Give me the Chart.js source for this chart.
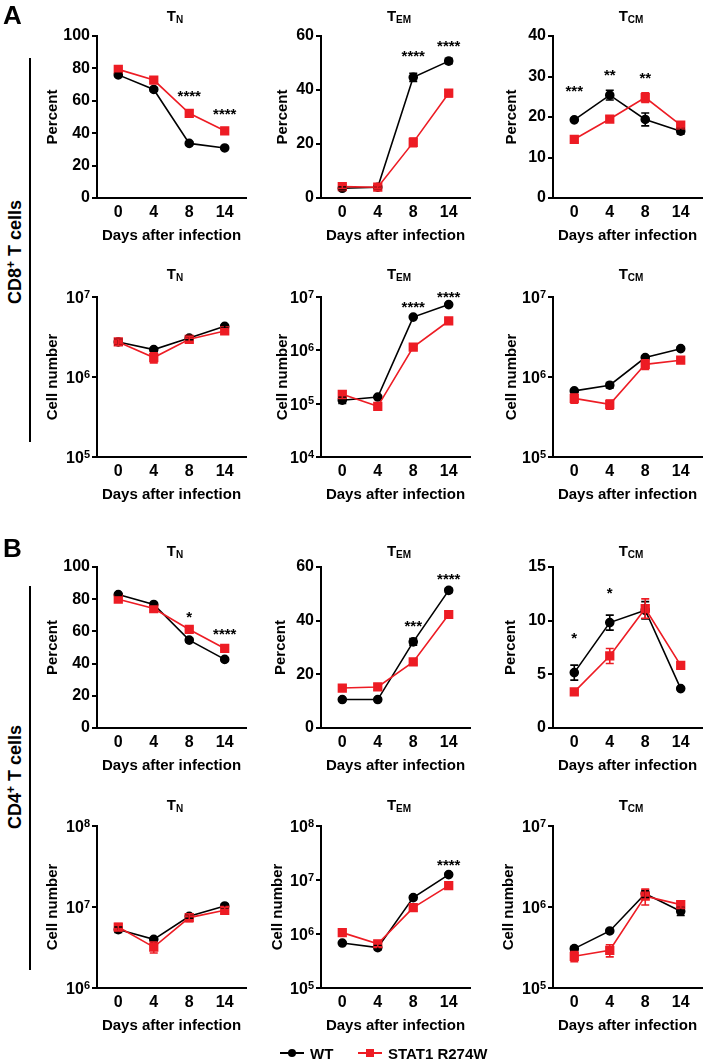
<!DOCTYPE html>
<html>
<head>
<meta charset="utf-8">
<script src="https://cdn.jsdelivr.net/npm/chart.js@4"></script>
<style>
  body { margin: 0; background: #fff; }
  #page { position: relative; width: 714px; height: 1063px; overflow: hidden;
          font-family: "Liberation Sans", Arial, sans-serif; font-weight: bold; color: #000; }
  #page canvas { position: absolute; }
  .lbl { position: absolute; white-space: nowrap; line-height: 1; }
  .ptitle { font-size: 15px; transform: translate(-50%, -50%); }
  .ptitle sub { font-size: 10px; vertical-align: -2px; line-height: 0; }
  .side { font-size: 18px; transform: translate(-50%, -50%) rotate(-90deg); }
  .side sup { font-size: 12px; vertical-align: 6px; line-height: 0; }
  .vline { position: absolute; width: 1.5px; background: #000; }
  .letter { font-size: 26px; }
  .leg { font-size: 15px; transform: translateY(-50%); }
</style>
</head>
<body>
<div id="page"></div>
<script>
// x categories (days after infection)
const days = ["0", "4", "8", "14"];

// ---- A: CD8+ T cells, percent ----
const cd8TnPctWT = [76, 67, 33.7, 30.9];
const cd8TnPctWTErr = [1, 1, 0.8, 0.8];
const cd8TnPctMut = [79.4, 72.8, 52.3, 41.5];
const cd8TnPctMutErr = [1, 1, 2, 1.2];
const cd8TnPctStars = ["", "", "****", "****"];
const cd8TnPctStarY = [null, null, 65, 54];

const cd8TemPctWT = [3.6, 4, 44.7, 50.7];
const cd8TemPctWTErr = [0.5, 0.5, 1.5, 1];
const cd8TemPctMut = [4.2, 4, 20.6, 38.8];
const cd8TemPctMutErr = [0.7, 0.5, 1.6, 1.3];
const cd8TemPctStars = ["", "", "****", "****"];
const cd8TemPctStarY = [null, null, 53.6, 57.5];

const cd8TcmPctWT = [19.3, 25.4, 19.4, 16.5];
const cd8TcmPctWTErr = [0.3, 1.2, 1.6, 0.7];
const cd8TcmPctMut = [14.5, 19.5, 24.8, 18];
const cd8TcmPctMutErr = [0.7, 0.7, 1.2, 0.7];
const cd8TcmPctStars = ["***", "**", "**", ""];
const cd8TcmPctStarY = [27.1, 31, 30.4, null];

// ---- A: CD8+ T cells, cell number ----
const cd8TnNumWT = [2.74e6, 2.2e6, 3.07e6, 4.3e6];
const cd8TnNumWTErr = [0.25e6, 0.1e6, 0.15e6, 0.2e6];
const cd8TnNumMut = [2.74e6, 1.75e6, 2.96e6, 3.76e6];
const cd8TnNumMutErr = [0.25e6, 0.25e6, 0.25e6, 0.25e6];
const cd8TnNumStars = ["", "", "", ""];
const cd8TnNumStarY = [null, null, null, null];

const cd8TemNumWT = [1.16e5, 1.33e5, 4.2e6, 7.2e6];
const cd8TemNumWTErr = [0.15e5, 0.05e5, 0.2e6, 0.3e6];
const cd8TemNumMut = [1.5e5, 0.89e5, 1.15e6, 3.55e6];
const cd8TemNumMutErr = [0.25e5, 0.05e5, 0.08e6, 0.25e6];
const cd8TemNumStars = ["", "", "****", "****"];
const cd8TemNumStarY = [null, null, 7.5e6, 1.15e7];

const cd8TcmNumWT = [6.7e5, 7.9e5, 1.75e6, 2.26e6];
const cd8TcmNumWTErr = [0.2e5, 0.6e5, 0.08e6, 0.1e6];
const cd8TcmNumMut = [5.4e5, 4.56e5, 1.44e6, 1.62e6];
const cd8TcmNumMutErr = [0.7e5, 0.6e5, 0.2e6, 0.1e6];
const cd8TcmNumStars = ["", "", "", ""];
const cd8TcmNumStarY = [null, null, null, null];

// ---- B: CD4+ T cells, percent ----
const cd4TnPctWT = [82.9, 76.7, 54.6, 42.6];
const cd4TnPctWTErr = [0.5, 0.5, 1.2, 0.8];
const cd4TnPctMut = [80, 74.2, 61.2, 49.4];
const cd4TnPctMutErr = [1, 1.5, 1.2, 1];
const cd4TnPctStars = ["", "", "*", "****"];
const cd4TnPctStarY = [null, null, 71.1, 60.3];

const cd4TemPctWT = [10.6, 10.6, 32.1, 51.3];
const cd4TemPctWTErr = [0.4, 0.4, 1.2, 0.8];
const cd4TemPctMut = [14.9, 15.3, 24.6, 42.3];
const cd4TemPctMutErr = [0.8, 1.2, 1, 1.2];
const cd4TemPctStars = ["", "", "***", "****"];
const cd4TemPctStarY = [null, null, 39.1, 56.5];

const cd4TcmPctWT = [5.16, 9.82, 10.97, 3.67];
const cd4TcmPctWTErr = [0.7, 0.7, 0.8, 0.1];
const cd4TcmPctMut = [3.36, 6.71, 11.13, 5.84];
const cd4TcmPctMutErr = [0.2, 0.7, 0.9, 0.3];
const cd4TcmPctStars = ["*", "*", "", ""];
const cd4TcmPctStarY = [8.64, 12.83, null, null];

// ---- B: CD4+ T cells, cell number ----
const cd4TnNumWT = [5.26e6, 3.99e6, 7.67e6, 1.03e7];
const cd4TnNumWTErr = [0.4e6, 0.2e6, 0.4e6, 0.6e6];
const cd4TnNumMut = [5.66e6, 3.2e6, 7.4e6, 9.1e6];
const cd4TnNumMutErr = [0.6e6, 0.5e6, 0.8e6, 0.8e6];
const cd4TnNumStars = ["", "", "", ""];
const cd4TnNumStarY = [null, null, null, null];

const cd4TemNumWT = [6.8e5, 5.6e5, 4.72e6, 1.26e7];
const cd4TemNumWTErr = [0.3e5, 0.5e5, 0.4e6, 0.8e6];
const cd4TemNumMut = [1.06e6, 6.6e5, 3.08e6, 7.87e6];
const cd4TemNumMutErr = [0.8e5, 0.8e5, 0.4e6, 0.8e6];
const cd4TemNumStars = ["", "", "", "****"];
const cd4TemNumStarY = [null, null, null, 2.15e7];

const cd4TcmNumWT = [3.06e5, 5.06e5, 1.46e6, 8.85e5];
const cd4TcmNumWTErr = [0.2e5, 0.2e5, 0.15e6, 0.1e6];
const cd4TcmNumMut = [2.46e5, 2.92e5, 1.36e6, 1.07e6];
const cd4TcmNumMutErr = [0.35e5, 0.5e5, 0.3e6, 0.1e6];
const cd4TcmNumStars = ["", "", "", ""];
const cd4TcmNumStarY = [null, null, null, null];

const WT_COLOR = "#000000";
const MUT_COLOR = "#ed1c24";
const FONT = "'Liberation Sans', Arial, sans-serif";

Chart.defaults.font.family = FONT;
Chart.defaults.font.weight = "bold";
Chart.defaults.font.size = 15;
Chart.defaults.color = "#000";

// layout of the grid (pixel positions of each plot's y axis / top / bottom)
const colAxis = [97, 321, 553];
const rowTop = [36, 297, 567, 826];
const rowBottom = [198, 457, 728, 988];
const titleY = [15, 273, 550, 804];
const PLOT_W = 156;
const Y_W = 70;
const TOP_PAD = 24;
const X_H = 50;

const panels = [
  { r: 0, c: 0, sub: "N", ytitle: "Percent", gap: 44, min: 0, max: 100, step: 20,
    wt: cd8TnPctWT, wtErr: cd8TnPctWTErr, mut: cd8TnPctMut, mutErr: cd8TnPctMutErr, stars: cd8TnPctStars, starY: cd8TnPctStarY },
  { r: 0, c: 1, sub: "EM", ytitle: "Percent", gap: 38, min: 0, max: 60, step: 20,
    wt: cd8TemPctWT, wtErr: cd8TemPctWTErr, mut: cd8TemPctMut, mutErr: cd8TemPctMutErr, stars: cd8TemPctStars, starY: cd8TemPctStarY },
  { r: 0, c: 2, sub: "CM", ytitle: "Percent", gap: 41, min: 0, max: 40, step: 10,
    wt: cd8TcmPctWT, wtErr: cd8TcmPctWTErr, mut: cd8TcmPctMut, mutErr: cd8TcmPctMutErr, stars: cd8TcmPctStars, starY: cd8TcmPctStarY },
  { r: 1, c: 0, sub: "N", ytitle: "Cell number", gap: 44, log: true, min: 1e5, max: 1e7,
    wt: cd8TnNumWT, wtErr: cd8TnNumWTErr, mut: cd8TnNumMut, mutErr: cd8TnNumMutErr, stars: cd8TnNumStars, starY: cd8TnNumStarY },
  { r: 1, c: 1, sub: "EM", ytitle: "Cell number", gap: 38, log: true, min: 1e4, max: 1e7,
    wt: cd8TemNumWT, wtErr: cd8TemNumWTErr, mut: cd8TemNumMut, mutErr: cd8TemNumMutErr, stars: cd8TemNumStars, starY: cd8TemNumStarY },
  { r: 1, c: 2, sub: "CM", ytitle: "Cell number", gap: 41, log: true, min: 1e5, max: 1e7,
    wt: cd8TcmNumWT, wtErr: cd8TcmNumWTErr, mut: cd8TcmNumMut, mutErr: cd8TcmNumMutErr, stars: cd8TcmNumStars, starY: cd8TcmNumStarY },
  { r: 2, c: 0, sub: "N", ytitle: "Percent", gap: 44, min: 0, max: 100, step: 20,
    wt: cd4TnPctWT, wtErr: cd4TnPctWTErr, mut: cd4TnPctMut, mutErr: cd4TnPctMutErr, stars: cd4TnPctStars, starY: cd4TnPctStarY },
  { r: 2, c: 1, sub: "EM", ytitle: "Percent", gap: 40, min: 0, max: 60, step: 20,
    wt: cd4TemPctWT, wtErr: cd4TemPctWTErr, mut: cd4TemPctMut, mutErr: cd4TemPctMutErr, stars: cd4TemPctStars, starY: cd4TemPctStarY },
  { r: 2, c: 2, sub: "CM", ytitle: "Percent", gap: 42, min: 0, max: 15, step: 5,
    wt: cd4TcmPctWT, wtErr: cd4TcmPctWTErr, mut: cd4TcmPctMut, mutErr: cd4TcmPctMutErr, stars: cd4TcmPctStars, starY: cd4TcmPctStarY },
  { r: 3, c: 0, sub: "N", ytitle: "Cell number", gap: 44, log: true, min: 1e6, max: 1e8,
    wt: cd4TnNumWT, wtErr: cd4TnNumWTErr, mut: cd4TnNumMut, mutErr: cd4TnNumMutErr, stars: cd4TnNumStars, starY: cd4TnNumStarY },
  { r: 3, c: 1, sub: "EM", ytitle: "Cell number", gap: 43, log: true, min: 1e5, max: 1e8,
    wt: cd4TemNumWT, wtErr: cd4TemNumWTErr, mut: cd4TemNumMut, mutErr: cd4TemNumMutErr, stars: cd4TemNumStars, starY: cd4TemNumStarY },
  { r: 3, c: 2, sub: "CM", ytitle: "Cell number", gap: 44, log: true, min: 1e5, max: 1e7,
    wt: cd4TcmNumWT, wtErr: cd4TcmNumWTErr, mut: cd4TcmNumMut, mutErr: cd4TcmNumMutErr, stars: cd4TcmNumStars, starY: cd4TcmNumStarY },
];

// vertical error bars with caps
const errorBarPlugin = {
  id: "errorBars",
  afterDatasetsDraw(chart) {
    const ctx = chart.ctx;
    const y = chart.scales.y;
    chart.data.datasets.forEach((ds, i) => {
      const meta = chart.getDatasetMeta(i);
      ctx.save();
      ctx.strokeStyle = ds.borderColor;
      ctx.lineWidth = 1.6;
      meta.data.forEach((pt, j) => {
        const v = ds.data[j].y;
        const e = ds.errors[j];
        const top = y.getPixelForValue(v + e);
        const bot = y.getPixelForValue(v - e);
        ctx.beginPath();
        ctx.moveTo(pt.x, top);
        ctx.lineTo(pt.x, bot);
        ctx.moveTo(pt.x - 4, top);
        ctx.lineTo(pt.x + 4, top);
        ctx.moveTo(pt.x - 4, bot);
        ctx.lineTo(pt.x + 4, bot);
        ctx.stroke();
      });
      ctx.restore();
    });
  },
};

// significance asterisks
const starsPlugin = {
  id: "stars",
  afterDraw(chart, args, opts) {
    const ctx = chart.ctx;
    ctx.save();
    ctx.font = "bold 15px " + FONT;
    ctx.fillStyle = "#000";
    ctx.textAlign = "center";
    ctx.textBaseline = "alphabetic";
    opts.labels.forEach((txt, j) => {
      if (!txt) return;
      const px = chart.scales.x.getPixelForValue(j);
      const py = chart.scales.y.getPixelForValue(opts.y[j]);
      ctx.fillText(txt, px, py + 8);
    });
    ctx.restore();
  },
};

// log axis labels drawn as 10 with a raised exponent
const powerLabelPlugin = {
  id: "powerLabels",
  afterDraw(chart, args, opts) {
    if (!opts.on) return;
    const ctx = chart.ctx;
    const y = chart.scales.y;
    const right = chart.chartArea.left - 7;
    ctx.save();
    ctx.fillStyle = "#000";
    ctx.textAlign = "right";
    y.ticks.forEach((t) => {
      const py = y.getPixelForValue(t.value);
      const exp = String(Math.round(Math.log10(t.value)));
      ctx.font = "bold 11px " + FONT;
      const ew = ctx.measureText(exp).width;
      ctx.textBaseline = "alphabetic";
      ctx.fillText(exp, right, py + 0.5);
      ctx.font = "bold 16px " + FONT;
      ctx.textBaseline = "middle";
      ctx.fillText("10", right - ew, py + 1.5);
    });
    ctx.restore();
  },
};

const page = document.getElementById("page");

function addText(html, cls, x, y) {
  const d = document.createElement("div");
  d.className = "lbl " + cls;
  d.innerHTML = html;
  d.style.left = x + "px";
  d.style.top = y + "px";
  page.appendChild(d);
  return d;
}

panels.forEach((p) => {
  const ax = colAxis[p.c];
  const pt = rowTop[p.r];
  const pb = rowBottom[p.r];
  const w = Y_W + PLOT_W;
  const h = TOP_PAD + (pb - pt) + X_H;

  const canvas = document.createElement("canvas");
  canvas.width = w;
  canvas.height = h;
  canvas.style.left = ax - Y_W + "px";
  canvas.style.top = pt - TOP_PAD + "px";
  page.appendChild(canvas);

  addText("T<sub>" + p.sub + "</sub>", "ptitle", ax + PLOT_W / 2, titleY[p.r]);

  const yScale = {
    type: p.log ? "logarithmic" : "linear",
    min: p.min,
    max: p.max,
    afterFit: (s) => { s.width = Y_W; },
    border: { display: true, color: "#000", width: 2 },
    grid: { display: true, drawOnChartArea: false, drawTicks: true, tickLength: 5, color: "#000", lineWidth: 2 },
    ticks: { padding: 2, autoSkip: false, font: { size: 16 } },
    title: { display: true, text: p.ytitle, padding: { top: Y_W - p.gap - 9, bottom: 0 } },
  };
  if (p.log) {
    yScale.afterBuildTicks = (s) => {
      const ticks = [];
      for (let e = Math.log10(p.min); e <= Math.log10(p.max) + 0.01; e++) ticks.push({ value: Math.pow(10, e) });
      s.ticks = ticks;
    };
    // real labels are painted by powerLabelPlugin
    yScale.ticks.callback = (v) => "10" + Math.round(Math.log10(v));
    yScale.ticks.color = "rgba(0,0,0,0)";
  } else {
    yScale.ticks.stepSize = p.step;
  }

  new Chart(canvas.getContext("2d"), {
    type: "line",
    data: {
      datasets: [
        {
          label: "WT",
          data: p.wt.map((v, i) => ({ x: i, y: v })),
          errors: p.wtErr,
          borderColor: WT_COLOR,
          backgroundColor: WT_COLOR,
          borderWidth: 1.6,
          pointStyle: "circle",
          pointRadius: 4,
          order: 1,
        },
        {
          label: "STAT1 R274W",
          data: p.mut.map((v, i) => ({ x: i, y: v })),
          errors: p.mutErr,
          borderColor: MUT_COLOR,
          backgroundColor: MUT_COLOR,
          borderWidth: 1.6,
          pointStyle: "rect",
          pointRadius: 5.4,
          order: 0,
        },
      ],
    },
    options: {
      responsive: false,
      animation: false,
      layout: { padding: { top: TOP_PAD, left: 0, right: 0, bottom: 0 } },
      plugins: {
        legend: { display: false },
        tooltip: { enabled: false },
        stars: { labels: p.stars, y: p.starY },
        powerLabels: { on: !!p.log },
      },
      scales: {
        x: {
          type: "linear",
          min: -0.6,
          max: 3.6,
          afterBuildTicks: (s) => { s.ticks = days.map((d, i) => ({ value: i })); },
          afterFit: (s) => { s.height = X_H; },
          grid: { display: false, drawTicks: false },
          border: { display: true, color: "#000", width: 2 },
          ticks: { padding: 5, maxRotation: 0, autoSkip: false, font: { size: 16 }, callback: (v) => days[v] },
          title: { display: true, text: "Days after infection", padding: { top: 0, bottom: 3 } },
        },
        y: yScale,
      },
    },
    plugins: [errorBarPlugin, starsPlugin, powerLabelPlugin],
  });
});

// panel letters, side labels and brackets
addText("A", "letter", 3, 2);
addText("B", "letter", 3, 535);
addText("CD8<sup>+</sup> T cells", "side", 15, 252);
addText("CD4<sup>+</sup> T cells", "side", 15, 777);
[[58, 442], [586, 970]].forEach(([a, b]) => {
  const l = document.createElement("div");
  l.className = "vline";
  l.style.left = "29px";
  l.style.top = a + "px";
  l.style.height = b - a + "px";
  page.appendChild(l);
});

// legend
function legendItem(x, color, square, text) {
  const line = document.createElement("div");
  line.style.cssText = `position:absolute;left:${x}px;top:1052px;width:24px;height:2px;background:${color}`;
  page.appendChild(line);
  const m = document.createElement("div");
  const s = 8;
  m.style.cssText = `position:absolute;left:${x + 12 - s / 2}px;top:${1053 - s / 2}px;width:${s}px;height:${s}px;background:${color};border-radius:${square ? 0 : 50}%`;
  page.appendChild(m);
  addText(text, "leg", x + 30, 1053);
}
legendItem(280, WT_COLOR, false, "WT");
legendItem(358, MUT_COLOR, true, "STAT1 R274W");
</script>
</body>
</html>
